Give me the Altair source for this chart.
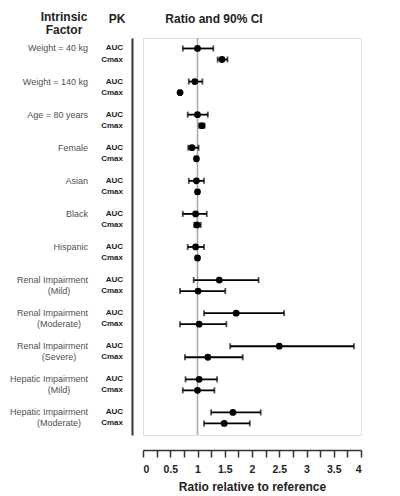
import altair as alt
import pandas as pd

factors = ["Weight = 40 kg", "Weight = 140 kg", "Age = 80 years", "Female", "Asian",
           "Black", "Hispanic", "Renal Impairment", "Renal Impairment", "Renal Impairment",
           "Hepatic Impairment", "Hepatic Impairment"]
factor_sub = ["", "", "", "", "", "", "", "(Mild)", "(Moderate)", "(Severe)", "(Mild)", "(Moderate)"]

auc_ratio = [1.00, 0.95, 1.00, 0.90, 0.98, 0.965, 0.965, 1.40, 1.71, 2.50, 1.03, 1.65]
auc_lo    = [0.73, 0.84, 0.82, 0.83, 0.84, 0.73, 0.82, 0.93, 1.12, 1.60, 0.78, 1.25]
auc_hi    = [1.29, 1.09, 1.19, 1.02, 1.12, 1.17, 1.12, 2.12, 2.59, 3.87, 1.36, 2.16]

cmax_ratio = [1.45, 0.68, 1.08, 0.98, 1.00, 0.99, 1.00, 1.01, 1.03, 1.19, 1.00, 1.49]
cmax_lo    = [1.37, 0.66, 1.03, 0.96, 0.97, 0.94, 0.97, 0.68, 0.68, 0.77, 0.73, 1.12]
cmax_hi    = [1.55, 0.70, 1.13, 1.01, 1.03, 1.06, 1.03, 1.51, 1.53, 1.83, 1.31, 1.96]

pk_names = ["AUC", "Cmax"]
x_ticks = [i * 0.25 for i in range(17)]

rows = []
for g in range(len(factors)):
    for s, pk in enumerate(pk_names):
        if pk == "AUC":
            r, lo, hi = auc_ratio[g], auc_lo[g], auc_hi[g]
        else:
            r, lo, hi = cmax_ratio[g], cmax_lo[g], cmax_hi[g]
        rows.append({"pos": g * 3 + s, "pk": pk, "ratio": r, "lo": lo, "hi": hi,
                     "line1": factors[g] if s == 0 else "",
                     "line2": factor_sub[g] if s == 1 else ""})
df = pd.DataFrame(rows)

FONT = "Liberation Sans"
yscale = alt.Scale(domain=[-0.95, 35.05], reverse=True, nice=False, zero=False)
xscale = alt.Scale(domain=[0, 4], nice=False, zero=False)

x_axis = alt.Axis(title="Ratio relative to reference", values=x_ticks,
                  labelExpr="(datum.value * 2) % 1 == 0 ? '' + datum.value : ''",
                  labelOverlap=False,
                  grid=False, offset=15, tickSize=7, tickWidth=1.5, tickColor="#333333",
                  domainColor="#333333", domainWidth=1.5,
                  labelFont=FONT, labelFontWeight="bold", labelFontSize=10.5,
                  labelColor="#222222", labelPadding=7,
                  titleFont=FONT, titleFontWeight="bold", titleFontSize=12,
                  titleColor="#222222", titlePadding=7)

y_axis = alt.Axis(title=None, labels=False, ticks=False, grid=False,
                  domain=True, domainColor="#333333", domainWidth=2, offset=11)

base = alt.Chart(df)

ref = alt.Chart(pd.DataFrame({"v": [1.0]})).mark_rule(color="#a8a8a8", strokeWidth=1.5).encode(
    x=alt.X("v:Q", scale=xscale, axis=x_axis)
)

bars = base.mark_errorbar(ticks=alt.MarkConfig(size=6, strokeWidth=1.5, color="black"),
                          color="black", thickness=1.8).encode(
    x=alt.X("lo:Q", scale=xscale, axis=x_axis),
    x2="hi:Q",
    y=alt.Y("pos:Q", scale=yscale, axis=y_axis),
)

points = base.mark_circle(size=46, color="black", opacity=1).encode(
    x=alt.X("ratio:Q", scale=xscale, axis=x_axis),
    y=alt.Y("pos:Q", scale=yscale, axis=y_axis),
)

lab1 = base.mark_text(align="right", baseline="middle", font=FONT, fontSize=9,
                      color="#505050").encode(
    x=alt.value(-55), y=alt.Y("pos:Q", scale=yscale), text="line1:N")
lab2 = base.mark_text(align="center", baseline="middle", font=FONT, fontSize=9,
                      color="#505050").encode(
    x=alt.value(-84), y=alt.Y("pos:Q", scale=yscale), text="line2:N")
pklab = base.mark_text(align="right", baseline="middle", font=FONT, fontSize=8,
                       fontWeight="bold", color="#222222").encode(
    x=alt.value(-20), y=alt.Y("pos:Q", scale=yscale), text="pk:N")

head_df = pd.DataFrame({
    "txt": ["Intrinsic", "Factor", "PK", "Ratio and 90% CI"],
    "hx": [-79, -79, -26, 71],
    "hy": [-21, -8.5, -19, -19],
})
headers = alt.Chart(head_df).mark_text(align="center", baseline="middle", font=FONT,
                                       fontSize=12, fontWeight="bold",
                                       color="#222222").encode(
    x=alt.X("hx:Q", scale=None), y=alt.Y("hy:Q", scale=None), text="txt:N")

chart = alt.layer(ref, bars, points, lab1, lab2, pklab, headers).properties(
    width=218, height=397,
    autosize=alt.AutoSizeParams(type="none"),
    padding={"left": 143, "top": 38, "right": 39, "bottom": 61},
).configure_view(stroke=None).configure_axisX(labelOverlap=False).configure(background="white")

chart.save("out.html", embed_options={"renderer": "svg", "actions": False})
